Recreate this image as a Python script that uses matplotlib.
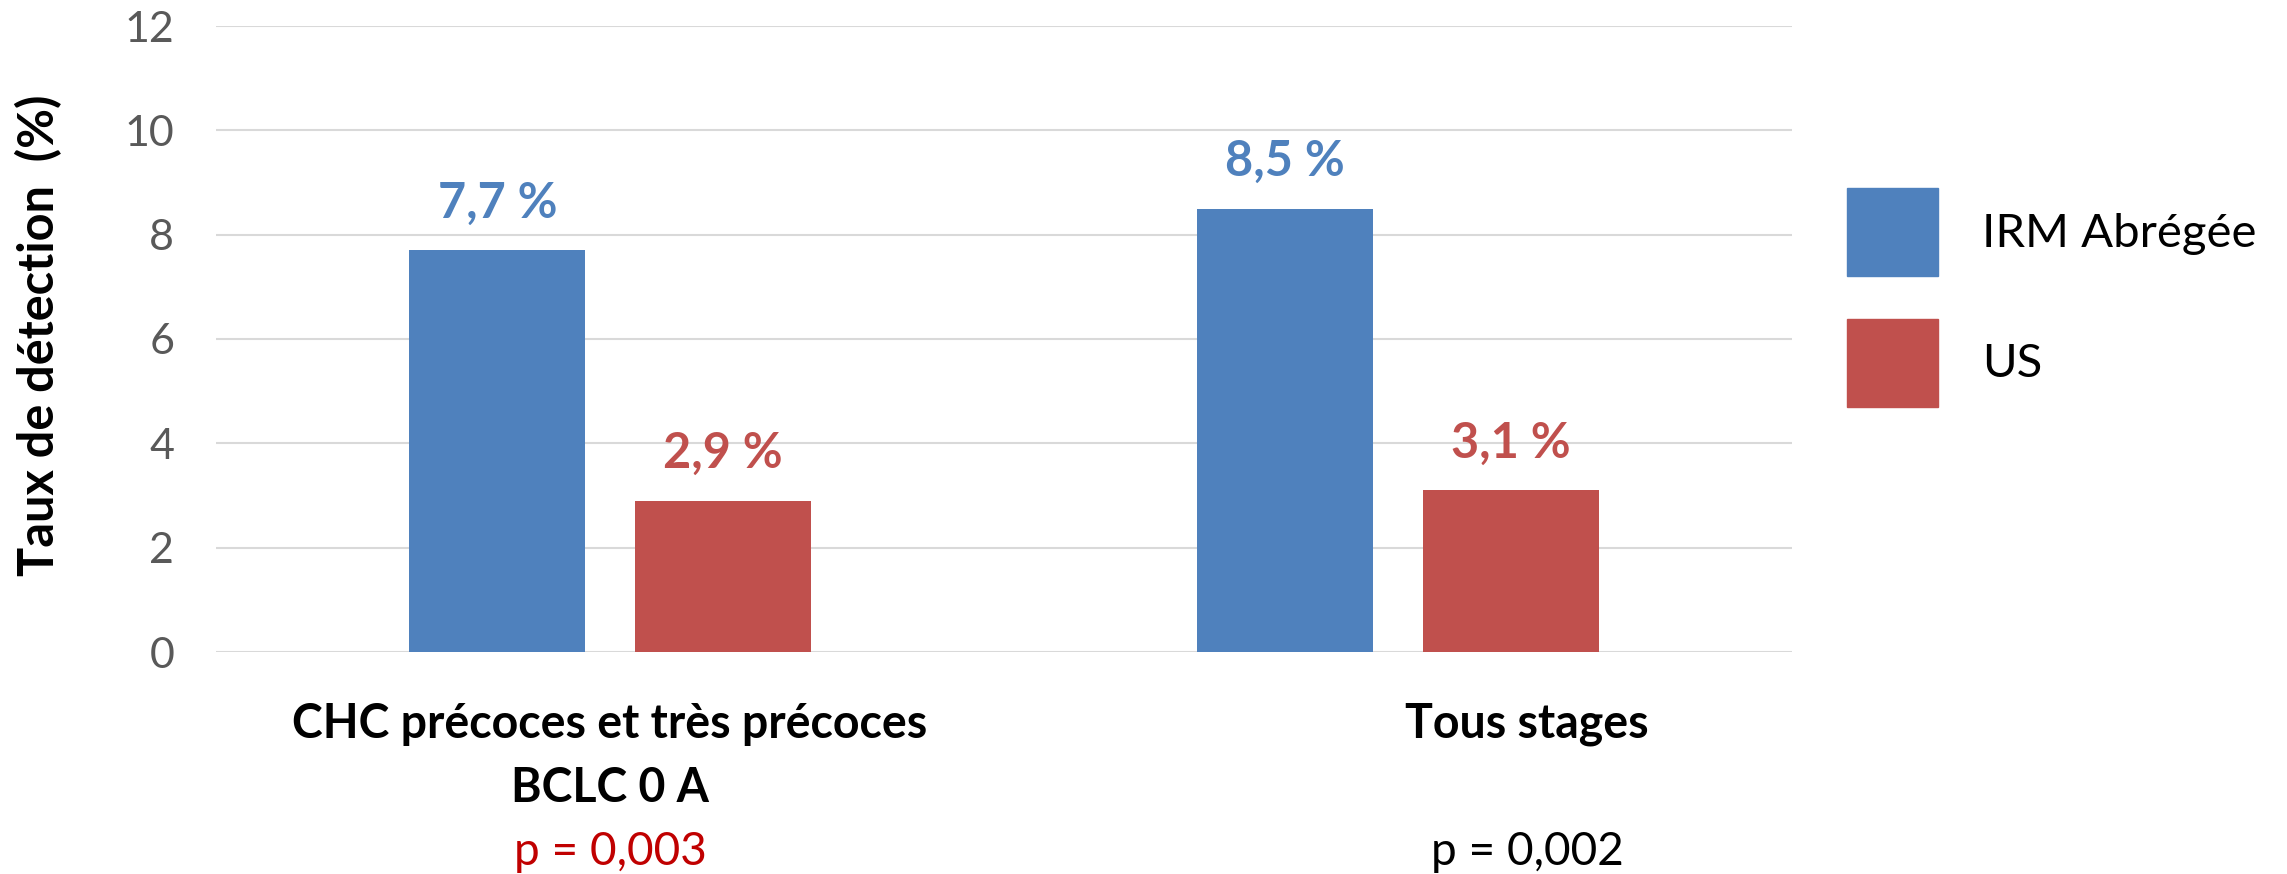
import matplotlib.pyplot as plt
import numpy as np
from matplotlib.patches import Patch

plt.rcParams['font.family'] = ['Lato', 'DejaVu Sans']

# --------------------------------------------------------------------------------

categories = ["CHC précoces et très précoces", "Tous stages"]
sub_labels = ["BCLC 0 A", ""]
series = ["IRM Abrégée", "US"]
irm_values = [7.7, 8.5]
us_values = [2.9, 3.1]
value_labels_irm = ["7,7 %", "8,5 %"]
value_labels_us = ["2,9 %", "3,1 %"]
p_values = ["p = 0,003", "p = 0,002"]
p_colors = ["#C00000", "black"]
label_x = [0.0, 1.164]  # where the category texts sit (data x)

colors = ["#4F81BD", "#C0504D"]

# --------------------------------------------------------------------------------

fig = plt.figure(figsize=(22.87, 8.74), dpi=100)
ax = fig.add_axes([216 / 2287, 1 - 652 / 874, (1792 - 216) / 2287, (652 - 26) / 874])

x = np.arange(len(categories))
w = 0.223
off = 0.143

ax.bar(x - off, irm_values, w, color=colors[0], label=series[0], zorder=2)
ax.bar(x + off, us_values, w, color=colors[1], label=series[1], zorder=2)

for i in range(len(categories)):
    ax.text(x[i] - off, irm_values[i] + 0.63, value_labels_irm[i], ha='center', va='baseline',
            fontsize=35, fontweight='bold', color=colors[0])
    ax.text(x[i] + off, us_values[i] + 0.63, value_labels_us[i], ha='center', va='baseline',
            fontsize=35, fontweight='bold', color=colors[1])

ax.set_xlim(-0.5, 1.5)
ax.set_ylim(0, 12)
ax.set_yticks(np.arange(0, 13, 2))
ax.set_xticks([])
ax.tick_params(axis='y', length=0, pad=30, labelsize=31, labelcolor='#595959')
ax.grid(axis='y', color='#D9D9D9', linewidth=1.5, zorder=0)
ax.set_axisbelow(True)
for s in ax.spines.values():
    s.set_visible(False)

# category labels + p values under the axis
trans = ax.get_xaxis_transform()
for i in range(len(categories)):
    ax.text(label_x[i], -0.137, categories[i], transform=trans, ha='center', va='baseline',
            fontsize=33.5, fontweight='bold')
    if sub_labels[i]:
        ax.text(label_x[i], -0.24, sub_labels[i], transform=trans, ha='center', va='baseline',
                fontsize=33.5, fontweight='bold')
    ax.text(label_x[i], -0.34, p_values[i], transform=trans, ha='center', va='baseline',
            fontsize=33, color=p_colors[i])

fig.text(39 / 2287, 1 - 335 / 874, "Taux de détection  (%)", rotation=90, ha='center', va='center',
         fontsize=35, fontweight='bold')

handles = [Patch(color=c) for c in colors]
fig.legend(handles, series, loc='upper left', bbox_to_anchor=(1847 / 2287, 1 - 188 / 874),
           frameon=False, fontsize=34, handlelength=1.93, handleheight=2.5,
           labelspacing=0.9, handletextpad=0.93, borderpad=0, borderaxespad=0)

fig.savefig("out.png", dpi=100)
